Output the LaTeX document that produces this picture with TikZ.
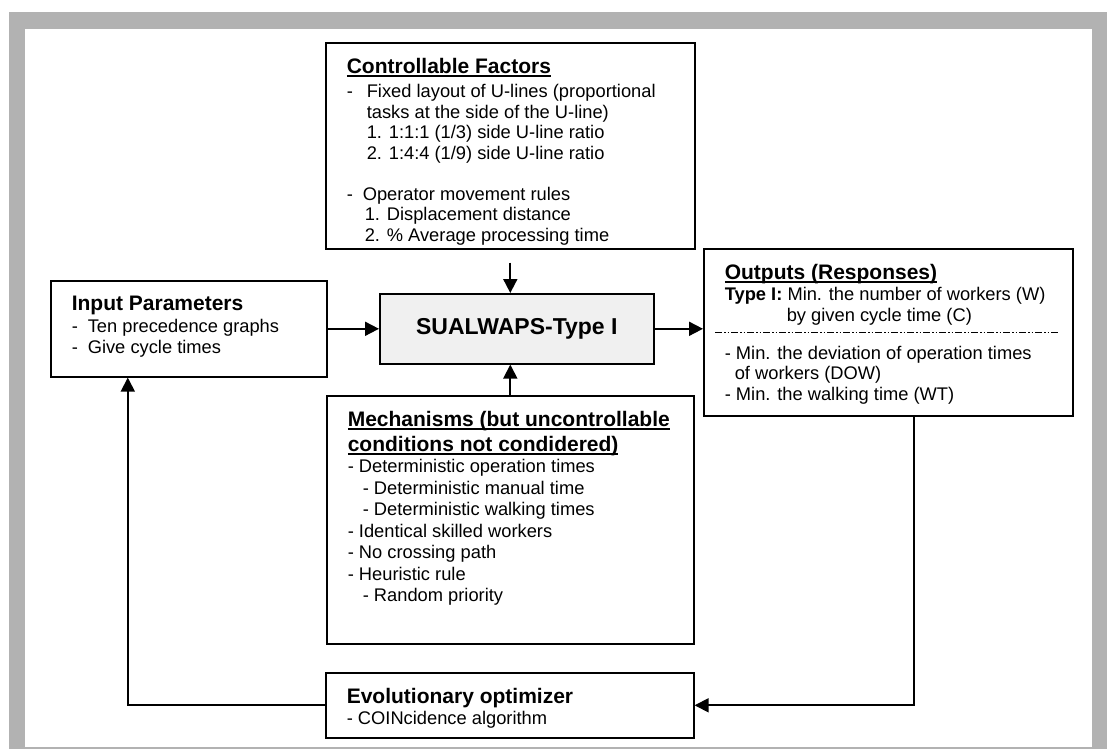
\documentclass[tikz,border=0pt]{standalone}
\usepackage{fontspec}
\setmainfont{Liberation Sans}
\usetikzlibrary{arrows.meta}

\newcommand{\bodyfont}{\fontsize{18.3}{20.5}\selectfont}
\newcommand{\headfont}{\fontsize{21}{24}\selectfont\bfseries}
\newcommand{\undl}[1]{\leavevmode\setbox0=\hbox{#1}\rlap{\rule[-3.5pt]{\wd0}{1.5pt}}\box0}
\newcommand{\panelbody}[3]{\parbox[c][#1][t]{#2}{\leftskip=21pt\rightskip=0pt plus 1fil\parindent=0pt\bodyfont\vspace*{15pt}#3}}

\begin{document}
\begin{tikzpicture}[x=1pt, y=-1pt,
    panel/.style={draw, line width=1.6pt, inner sep=0pt, anchor=north west},
    flow/.style={line width=1.8pt, -{Triangle[length=14pt,width=14pt]}},
    sepline/.style={line width=0.8pt, dash pattern=on 7pt off 2pt on 1.5pt off 2pt on 1.5pt off 2pt}]
  \useasboundingbox (0,0) rectangle (1107,749);
  \fill[black!30] (9,12) rectangle (1107,749);
  \fill[white] (25,29) rectangle (1092,747);

  \node[panel] (ctrl) at (325,42) {\panelbody{206pt}{369pt}{%
      {\headfont\undl{Controllable Factors}}\\[4pt]
      \makebox[20pt][l]{-}Fixed layout of U-lines (proportional\\
      \hspace*{20pt}tasks at the side of the U-line)\\
      \hspace*{20pt}1. 1:1:1 (1/3) side U-line ratio\\
      \hspace*{20pt}2. 1:4:4 (1/9) side U-line ratio\\[20.5pt]
      \makebox[16pt][l]{-}Operator movement rules\\
      \hspace*{18pt}1. Displacement distance\\
      \hspace*{18pt}2. \% Average processing time}};

  \node[panel] (inp) at (50,280) {\panelbody{96pt}{276pt}{%
      {\headfont Input Parameters}\\[2pt]
      \makebox[16pt][l]{-}Ten precedence graphs\\
      \makebox[16pt][l]{-}Give cycle times}};

  \node[panel, fill=black!6, minimum width=274pt, minimum height=70pt,
        font=\fontsize{23}{26}\selectfont\bfseries] (sual) at (379,293) {SUALWAPS-Type I};

  \node[panel] (outp) at (703,248) {\panelbody{167pt}{369pt}{%
      {\headfont\undl{Outputs (Responses)}}\\[1pt]
      \textbf{Type I:} Min. the number of workers (W)\\
      \hspace*{62pt}by given cycle time (C)\\[17.5pt]
      - Min. the deviation of operation times\\
      \hspace*{10pt}of workers (DOW)\\
      - Min. the walking time (WT)}};
  \draw[sepline] ([xshift=12pt,yshift=-84pt]outp.north west) -- ([xshift=-15pt,yshift=-84pt]outp.north east);

  \node[panel] (mech) at (326,395) {\panelbody{248pt}{367pt}{%
      \fontsize{18.3}{21.5}\selectfont
      {\headfont\undl{Mechanisms (but uncontrollable}}\\[3.5pt]
      {\headfont\undl{conditions not condidered)}}\\
      - Deterministic operation times\\
      \hspace*{15pt}- Deterministic manual time\\
      \hspace*{15pt}- Deterministic walking times\\
      - Identical skilled workers\\
      - No crossing path\\
      - Heuristic rule\\
      \hspace*{15pt}- Random priority}};

  \node[panel] (evol) at (325,672) {\panelbody{65pt}{368pt}{%
      {\headfont Evolutionary optimizer}\\[1pt]
      - COINcidence algorithm}};

  \draw[flow] ([yshift=-13pt]ctrl.south) -- (ctrl.south |- sual.north);
  \draw[flow] (mech.north) -- (mech.north |- sual.south);
  \draw[flow] (inp.east) -- (sual.west);
  \draw[flow] (sual.east) -- (sual.east -| outp.west);
  \draw[flow] ([xshift=26pt]outp.south) |- (evol.east);
  \draw[flow] (evol.west) -| ([xshift=-61pt]inp.south);
\end{tikzpicture}
\end{document}
